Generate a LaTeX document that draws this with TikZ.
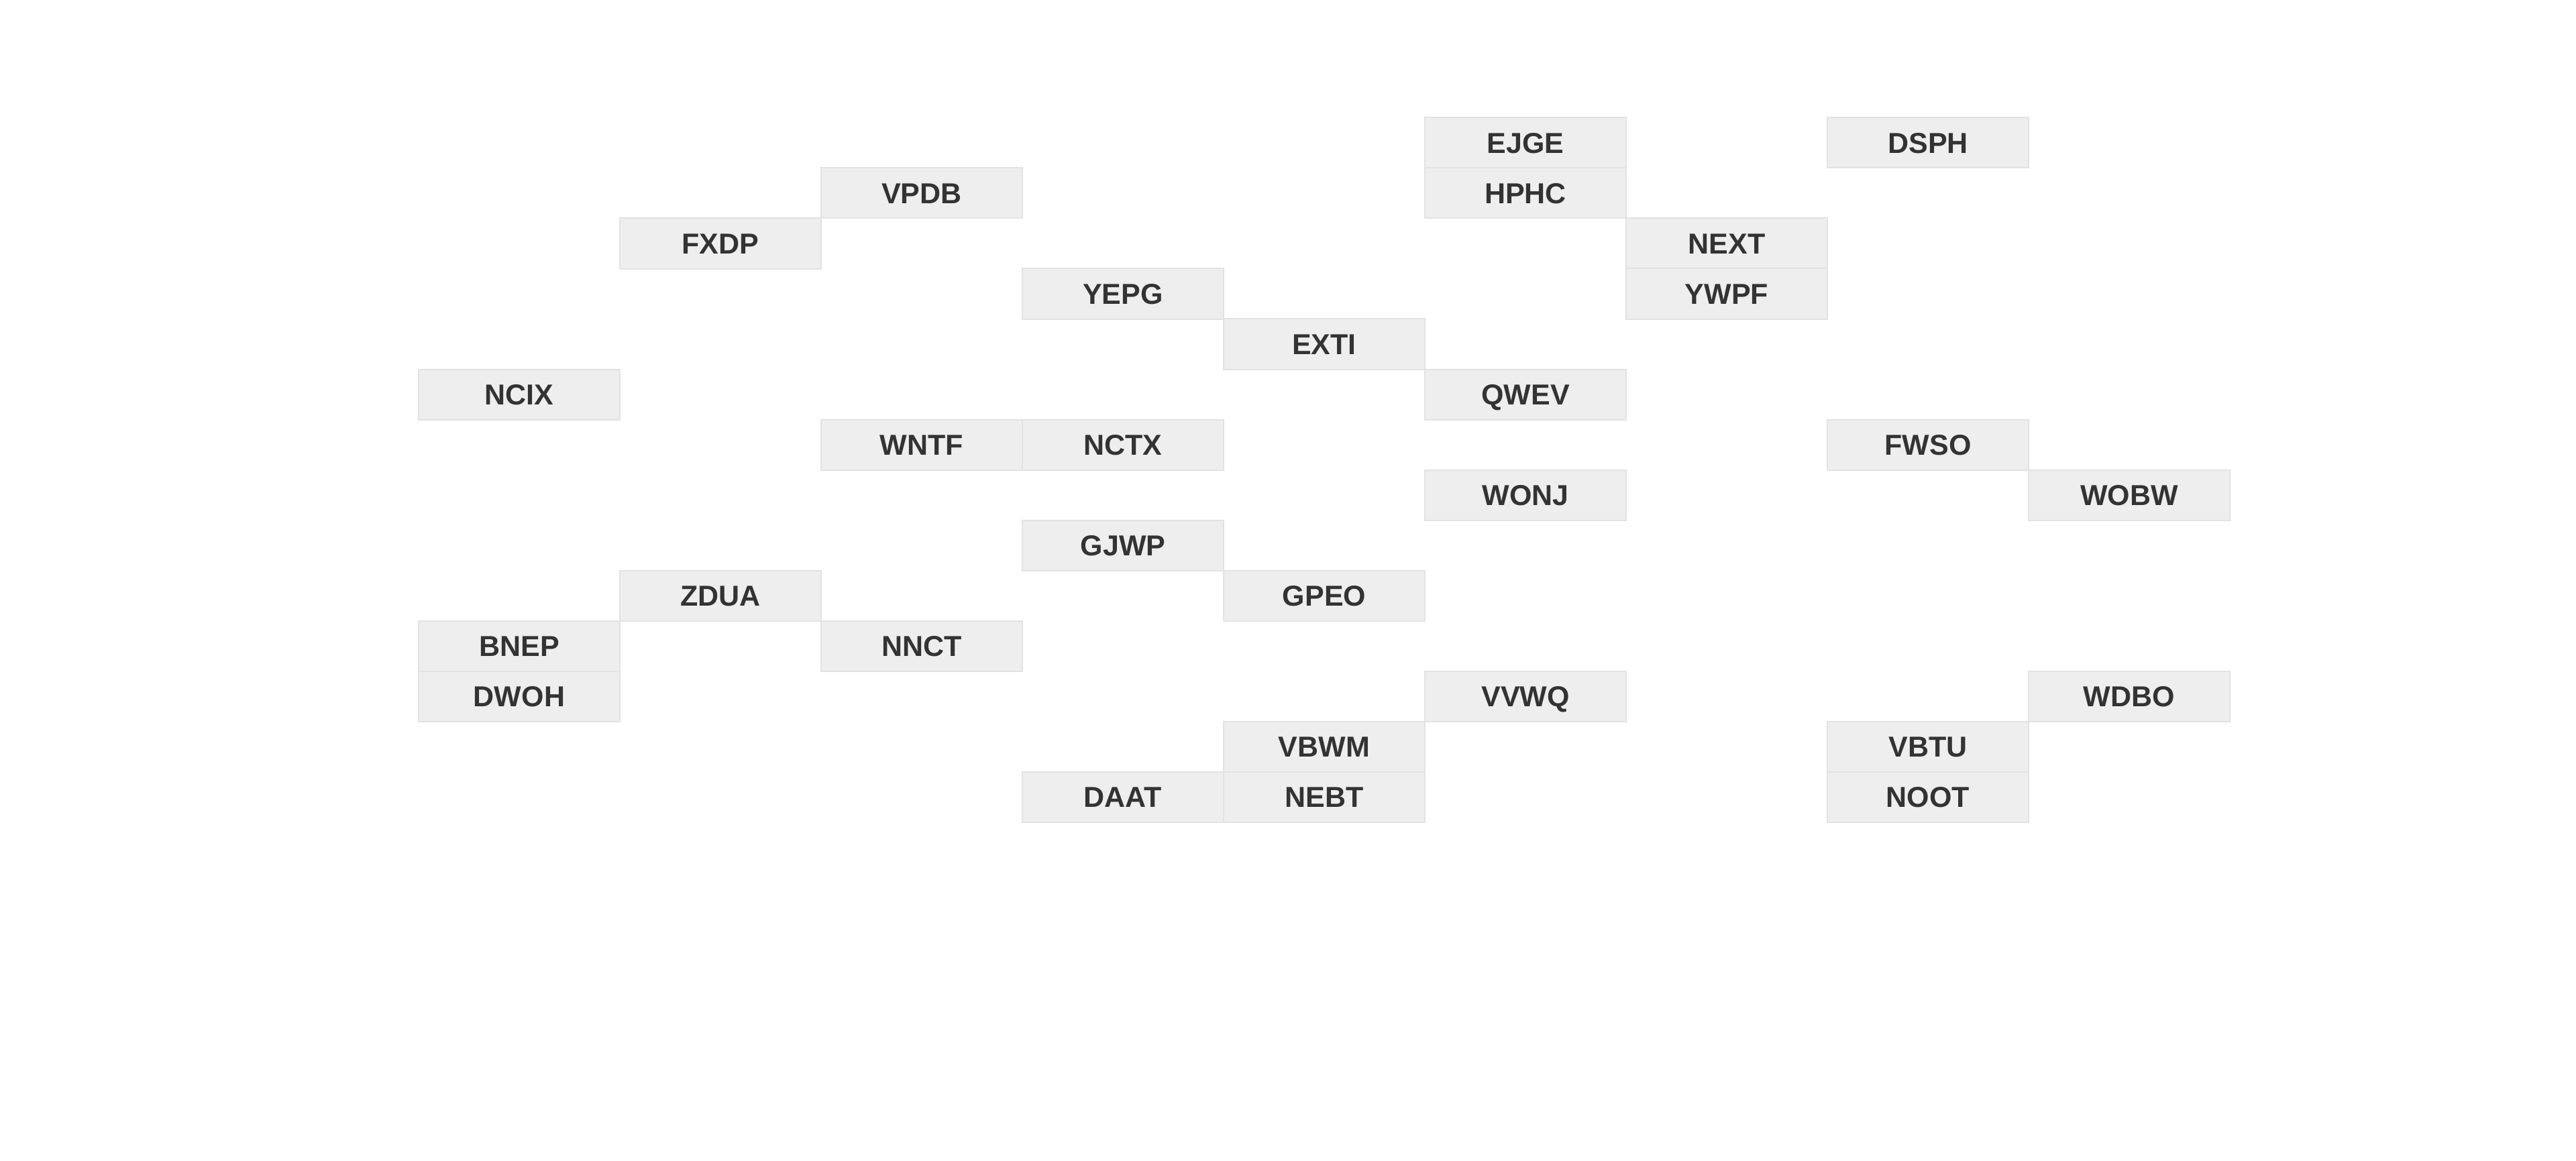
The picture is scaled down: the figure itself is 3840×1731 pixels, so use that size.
\documentclass[tikz,border=0pt]{standalone}
\usepackage{fontspec}
\setmainfont{Liberation Sans}
\definecolor{boxfill}{HTML}{EEEEEE}
\definecolor{boxline}{HTML}{E2E2E2}
\definecolor{boxtext}{HTML}{333333}
\begin{document}
\begin{tikzpicture}[x=0.2pt,y=-0.2pt,
  cell/.style={draw=boxline,line width=0.4pt,fill=boxfill,minimum width=60pt,minimum height=15pt,
    inner sep=0pt,text height=6.3pt,text depth=0pt,text=boxtext,font=\fontsize{8.6}{10}\selectfont\bfseries}]
\useasboundingbox[fill=white] (0,0) rectangle (3840,1731);
\foreach \name/\c/\r in {EJGE/5/0,DSPH/7/0,VPDB/2/1,HPHC/5/1,FXDP/1/2,NEXT/6/2,YEPG/3/3,YWPF/6/3,
  EXTI/4/4,NCIX/0/5,QWEV/5/5,WNTF/2/6,NCTX/3/6,FWSO/7/6,WONJ/5/7,WOBW/8/7,GJWP/3/8,ZDUA/1/9,GPEO/4/9,
  BNEP/0/10,NNCT/2/10,DWOH/0/11,VVWQ/5/11,WDBO/8/11,VBWM/4/12,VBTU/7/12,DAAT/3/13,NEBT/4/13,NOOT/7/13}
{
  \pgfmathsetmacro{\px}{774+300*\c}
  \pgfmathsetmacro{\py}{213+75*\r}
  \node[cell] (\name) at (\px,\py) {\name};
}
\end{tikzpicture}
\end{document}
